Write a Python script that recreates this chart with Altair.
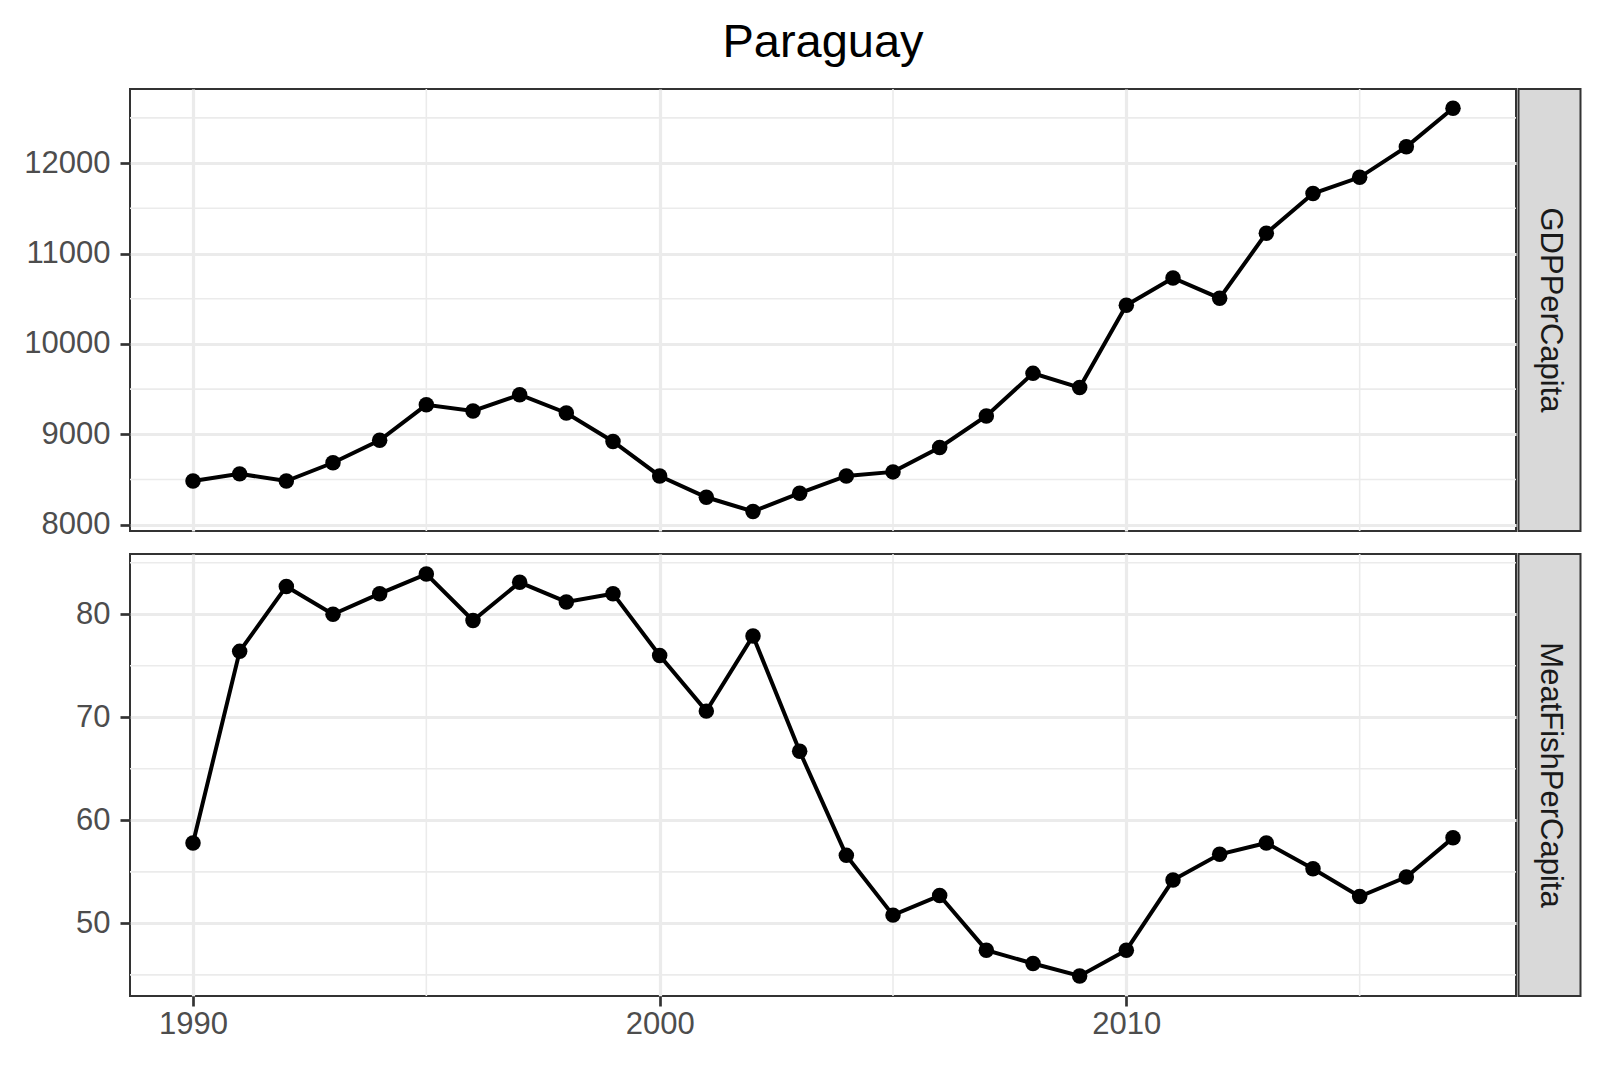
import altair as alt
import pandas as pd

years = list(range(1990, 2018))
gdp = [8483, 8562, 8483, 8685, 8933, 9326, 9258, 9438, 9236, 8921,
       8539, 8303, 8146, 8348, 8539, 8584, 8854, 9202, 9674, 9517,
       10427, 10730, 10506, 11225, 11663, 11843, 12180, 12607]
meat = [57.8, 76.4, 82.7, 80.0, 82.0, 83.9, 79.4, 83.1, 81.2, 82.0,
        76.0, 70.6, 77.9, 66.7, 56.6, 50.8, 52.7, 47.4, 46.1, 44.9,
        47.4, 54.2, 56.7, 57.8, 55.3, 52.6, 54.5, 58.3]

x_major = [1990, 2000, 2010]
x_minor = [1995, 2005, 2015]
gdp_major = [8000, 9000, 10000, 11000, 12000]
gdp_minor = [8500, 9500, 10500, 11500, 12500]
meat_major = [50, 60, 70, 80]
meat_minor = [45, 55, 65, 75, 85]
panel_labels = ["GDPPerCapita", "MeatFishPerCapita"]
chart_title = "Paraguay"

W, H = 1386, 442
FONT = "Liberation Sans"
GRID = "#EBEBEB"
DARK = "#333333"

xscale = alt.Scale(domain=[1988.65, 2018.35], nice=False, zero=False)


def panel(values, ydomain, ymajor, yminor, label, show_x, title_text=None):
    df = pd.DataFrame({"year": years, "value": values})
    yscale = alt.Scale(domain=ydomain, nice=False, zero=False)
    xaxis = alt.Axis(values=x_major, grid=True, gridColor=GRID, gridWidth=3.2,
                     labels=show_x, ticks=show_x, domain=False, format="d",
                     title=None, labelFont=FONT, labelFontSize=31,
                     labelColor="#4D4D4D", tickColor=DARK, tickWidth=2.7,
                     tickSize=10, labelPadding=3)
    yaxis = alt.Axis(values=ymajor, grid=True, gridColor=GRID, gridWidth=3.2,
                     domain=False, format="d", title=None, labelFont=FONT,
                     labelFontSize=31, labelColor="#4D4D4D", tickColor=DARK,
                     tickWidth=2.7, tickSize=10, labelPadding=10,
                     minExtent=106, maxExtent=106)
    X = alt.X("year:Q", scale=xscale, axis=xaxis)
    Y = alt.Y("value:Q", scale=yscale, axis=yaxis)

    vminor = alt.Chart(pd.DataFrame({"year": x_minor})).mark_rule(
        color=GRID, strokeWidth=1.6).encode(x=X)
    hminor = alt.Chart(pd.DataFrame({"value": yminor})).mark_rule(
        color=GRID, strokeWidth=1.6).encode(y=Y)
    base = alt.Chart(df)
    line = base.mark_line(color="black", strokeWidth=4).encode(x=X, y=Y)
    pts = base.mark_circle(color="black", size=240, opacity=1).encode(x=X, y=Y)

    lab = pd.DataFrame({"label": [label]})
    strip = alt.Chart(lab).mark_rect(fill="#D9D9D9", stroke=DARK,
                                     strokeWidth=2).encode(
        x=alt.value(W + 2.5), x2=alt.value(W + 64.5),
        y=alt.value(0), y2=alt.value(H))
    strip_text = alt.Chart(lab).mark_text(
        angle=90, align="center", baseline="middle", font=FONT,
        fontSize=31, color="#1A1A1A").encode(
        x=alt.value(W + 33.5), y=alt.value(H / 2), text="label:N")

    layers = [vminor, hminor, line, pts, strip, strip_text]
    if title_text:
        t = alt.Chart(pd.DataFrame({"t": [title_text]})).mark_text(
            align="center", baseline="alphabetic", font=FONT, fontSize=47,
            color="black").encode(x=alt.value(W / 2), y=alt.value(-32.5),
                                  text="t:N")
        layers.append(t)
    return alt.layer(*layers).properties(width=W, height=H)


top = panel(gdp, [7930, 12820], gdp_major, gdp_minor, panel_labels[0],
            False, chart_title)
bottom = panel(meat, [42.95, 85.85], meat_major, meat_minor, panel_labels[1],
               True)

chart = alt.vconcat(top, bottom, spacing=11).properties(
    padding={"left": 14, "top": 9, "right": 5, "bottom": 5},
    background="white",
).configure_view(stroke=DARK, strokeWidth=2)

chart.save("out.html", embed_options={"renderer": "svg", "actions": False})
